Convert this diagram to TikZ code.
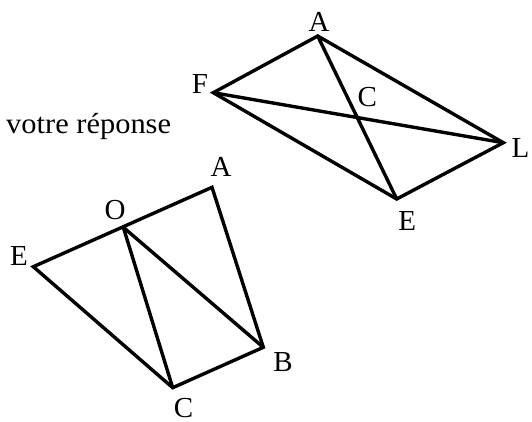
\documentclass[tikz,border=0pt]{standalone}
\usepackage{fontspec}
\setmainfont{Liberation Serif}
\usetikzlibrary{positioning}

\begin{document}
\begin{tikzpicture}[x=1pt,y=-1pt,
    lbl/.style={inner sep=0pt,font=\fontsize{29}{32}\selectfont},
    edge/.style={line width=3.4pt}]

  \useasboundingbox (0,0) rectangle (532,421);

  %================= 上：四角形 AFEL =================
  \coordinate (A1) at (317.7,36);
  \coordinate (F1) at (213.3,92.7);
  \coordinate (L1) at (503.3,142.7);
  \coordinate (E1) at (396.7,199);

  \draw[edge] (A1) -- (L1) -- (E1) -- (F1) -- cycle;
  \draw[edge] (A1) -- (E1);                       % 対角線
  \draw[edge] (F1) -- (L1);                       % 対角線

  \node[lbl] (lA1) at (319,21.5) {A};
  \node[lbl] (lF1) at (200,84) {F};
  \node[lbl] (lC1) at (367.3,96.7) {C};
  \node[lbl] (lL1) at (520.5,148.3) {L};
  \node[lbl] (lE1) at (407.3,220.7) {E};

  % ---- 文字 ----
  \node[lbl,anchor=base west,xscale=1.05] (rep) at (6,133.3) {votre réponse};

  %================= 下：五角形 EOABC =================
  \coordinate (E2) at (33.3,266.7);
  \coordinate (O2) at (123.3,227.3);
  \coordinate (A2) at (212,187.3);
  \coordinate (B2) at (263.3,347.3);
  \coordinate (C2) at (172.7,387.7);

  \draw[edge] (E2) -- (A2) -- (B2) -- (C2) -- cycle;
  \draw[edge] (O2) -- (B2);
  \draw[edge] (O2) -- (C2);

  \node[lbl] (lE2) at (19,256) {E};
  \node[lbl] (lO2) at (115,210) {O};
  \node[lbl] (lA2) at (221,166.7) {A};
  \node[lbl] (lB2) at (283,361.7) {B};
  \node[lbl] (lC2) at (183.5,408.5) {C};

\end{tikzpicture}
\end{document}
